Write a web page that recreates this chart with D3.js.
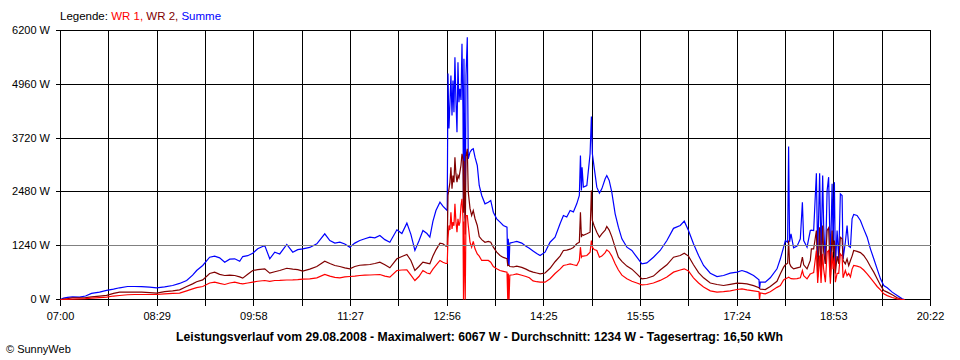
<!DOCTYPE html>
<html><head><meta charset="utf-8">
<script src="https://cdn.jsdelivr.net/npm/d3@7"></script>
<style>
html,body{margin:0;padding:0;background:#fff;}
svg{display:block;font-family:"Liberation Sans",Arial,sans-serif;}
</style></head><body>
<svg id="chart" width="960" height="360"></svg>
<script>
// minutes after 07:00
const times = [0,2.8,6.5,11.1,17.5,23.1,28.6,36.0,42.5,48.9,54.5,61.8,68.3,74.8,82.1,88.6,96.0,103.4,109.8,116.3,121.8,125.5,131.1,137.5,142.1,146.7,151.4,156.0,160.6,165.2,168.0,172.6,177.2,181.8,188.3,192.9,197.5,202.1,208.6,214.1,218.7,223.3,229.8,236.3,243.6,248.3,252.9,257.5,262.1,266.7,271.3,275.9,280.6,285.2,289.8,294.4,299.0,303.6,310.1,314.7,319.3,323.0,326.7,330.4,334.1,337.8,340.5,343.3,346.1,349.8,352.5,355.3,356.5,357.2,358.1,359.0,359.9,360.9,361.8,362.7,363.6,364.5,365.5,366.4,367.3,368.2,369.2,370.1,371.0,371.5,371.9,373.1,373.8,375.0,375.9,377.5,379.0,380.5,382.1,384.2,386.0,388.3,391.3,394.4,396.6,399.0,402.1,405.2,408.2,411.6,412.3,412.8,413.5,414.2,417.4,420.6,425.2,429.1,432.2,435.6,439.0,442.1,446.7,451.3,455.9,460.5,463.6,466.7,469.8,472.8,475.9,478.3,479.3,480.2,480.8,482.0,485.2,488.2,489.4,490.3,491.9,494.4,496.8,499.0,502.1,503.6,505.8,508.2,511.3,514.3,517.5,522.1,526.7,531.3,535.9,540.5,546.6,552.8,559.0,565.1,571.3,575.0,578.9,583.5,588.2,592.8,599.0,605.2,611.2,617.4,623.6,628.2,632.8,638.9,643.9,644.4,645.1,649.7,654.3,660.5,663.6,666.6,668.2,670.3,671.2,672.1,673.4,675.8,679.0,682.0,683.9,685.1,688.2,691.2,692.2,694.3,696.8,698.0,699.8,701.1,702.6,703.5,705.1,706.7,708.1,709.7,711.3,712.2,713.4,714.3,715.9,717.4,718.9,720.5,721.4,723.5,725.1,726.6,728.2,729.7,731.2,734.3,737.4,740.4,743.6,746.6,749.7,752.8,755.9,758.9,762.1,766.7,771.3,775.9,778.0];
// WR 1 (red)
const wr1 = [0,0,5,10,15,20,30,45,55,80,92,110,115,115,115,115,130,140,146,200,246,275,300,380,400,370,346,380,400,370,361,380,400,420,438,420,438,440,450,453,460,470,476,500,576,540,510,499,520,530,540,553,560,565,570,576,540,515,668,680,684,560,438,530,668,610,592,700,784,900,860,830,830,1399,1706,1600,2012,1628,1782,1700,2205,1800,1552,1860,1700,1782,2166,2320,1900,0,1800,0,1936,1936,1706,1320,1206,1340,1168,1050,1000,900,900,900,860,760,707,668,650,630,0,600,0,560,570,590,560,530,500,430,410,400,400,480,600,700,784,800,822,800,784,900,1206,975,1000,1000,1014,1090,1360,1206,1150,1130,975,1000,1080,1145,1100,1000,822,680,560,476,420,380,338,346,380,440,520,630,680,707,660,500,380,290,200,170,180,200,230,246,220,200,180,0,150,130,180,280,323,450,476,500,515,500,480,476,480,500,668,550,476,592,600,620,1130,380,1014,380,1053,700,400,1090,1130,361,1100,700,975,400,600,600,1053,1000,500,668,550,600,520,700,784,770,745,680,592,500,400,300,220,130,90,45,15,0,0];
// WR 2 (dark red)
const wr2 = [0,10,20,40,40,45,60,80,95,140,170,170,170,168,160,146,180,200,223,300,361,410,453,600,630,580,553,560,553,520,492,580,668,690,707,607,640,668,720,700,690,653,700,760,883,830,784,760,730,707,760,790,800,807,830,860,800,730,938,990,1037,900,668,760,860,840,822,1000,1145,1300,1284,1230,1230,2397,2551,2700,3050,2551,2858,2700,3280,2900,2705,2858,2800,2935,3100,3358,3243,2000,3200,1500,3300,3473,2474,2100,1936,2051,1867,1706,1450,1380,1320,1340,1320,1206,1090,1014,970,938,784,790,784,760,750,770,740,700,660,630,610,592,610,720,870,1000,1130,1140,1160,1200,1284,1320,2012,1436,1500,1480,1514,1552,2512,1821,1700,1550,1436,1514,1600,1683,1600,1450,1200,975,880,770,700,592,476,490,540,680,800,975,1014,1067,1000,800,620,500,380,346,323,350,377,370,361,320,270,250,240,230,300,420,592,745,800,835,1360,830,760,707,730,750,975,800,707,900,1168,1168,1590,515,1667,560,1706,1100,820,1590,1650,515,1590,1100,1360,600,1000,822,1436,1400,900,822,938,780,900,1000,1130,1110,1080,1014,900,760,630,480,330,207,170,110,40,0,0];
// Summe (blue)
const summe = [0,30,50,60,55,80,140,170,210,240,270,300,300,295,285,270,290,323,370,438,560,668,784,975,1000,960,860,930,938,880,990,1010,1067,1168,1245,938,1090,1050,1268,1090,1150,1168,1200,1284,1514,1360,1300,1320,1280,1205,1300,1360,1400,1436,1420,1475,1380,1320,1606,1520,1760,1500,1130,1350,1590,1520,1436,1800,2051,2243,2150,2080,2050,5209,3940,4500,5163,4241,5048,4317,5585,4600,3857,5470,4548,4856,4600,5893,4402,2100,5547,1867,5163,6045,3243,3395,3450,3473,3280,3089,2628,2397,2205,2243,2282,2012,1860,1782,1706,1667,784,1400,784,1300,1320,1340,1300,1230,1180,1120,1060,1014,1090,1320,1436,1745,1936,1900,2051,2020,2205,2397,3319,2512,3050,2590,2628,3358,4218,3358,3050,2590,2451,2550,2782,2858,2743,2474,1975,1667,1399,1206,1130,975,822,845,975,1130,1360,1640,1706,1805,1590,1284,1014,784,607,530,553,607,630,668,630,553,453,246,400,400,500,707,938,1206,1360,1320,3527,1330,1514,1190,1230,1399,2243,1360,1206,1590,1600,1590,2912,975,2912,1000,2858,1706,822,2512,2820,822,2666,1360,2705,745,1590,938,2436,2397,938,1320,1706,1230,1200,1860,1959,1936,1821,1628,1436,1168,938,707,476,323,270,170,92,15,0];

const xTickLabels = ["07:00","08:29","09:58","11:27","12:56","14:25","15:55","17:24","18:53","20:22"];
const yTicks = [0,1240,2480,3720,4960,6200];
const average = 1234;
const titleText = "Leistungsverlauf vom 29.08.2008 - Maximalwert: 6067 W - Durchschnitt: 1234 W - Tagesertrag: 16,50 kWh";
const legendParts = [["Legende: ","#000000"],["WR 1, ","#ff0000"],["WR 2, ","#800000"],["Summe","#0000ff"]];

const svg = d3.select('#chart');
const x = d3.scaleLinear().domain([0, 802]).range([60, 930]);
const y = d3.scaleLinear().domain([0, 6200]).range([299, 30]);

// vertical grid + x ticks
const gridVals = d3.range(19).map(k => k * 802 / 18);
const xAxis = d3.axisBottom(x).tickValues(gridVals).tickSizeInner(6).tickSizeOuter(0)
  .tickFormat((d, i) => i % 2 === 0 ? xTickLabels[i / 2] : "");
const gx = svg.append('g').attr('transform', 'translate(0,299.5)').call(xAxis);
gx.select('.domain').remove();
gx.selectAll('.tick line').attr('y1', -269).attr('y2', 6).attr('stroke', '#000').attr('shape-rendering', 'crispEdges');
gx.selectAll('.tick text').attr('y', 17).attr('dy', '0.32em').attr('fill', '#000')
  .attr('font-size', 11).attr('font-family', '"Liberation Sans",Arial,sans-serif');

// horizontal grid + y ticks
const yAxis = d3.axisLeft(y).tickValues(yTicks).tickSizeInner(5).tickSizeOuter(0).tickFormat(d => d + " W");
const gy = svg.append('g').attr('transform', 'translate(60.5,0)').call(yAxis);
gy.select('.domain').remove();
gy.selectAll('.tick line').attr('x1', 870).attr('x2', -5).attr('stroke', '#000').attr('shape-rendering', 'crispEdges');
gy.selectAll('.tick text').attr('x', -10.5).attr('fill', '#000')
  .attr('font-size', 11).attr('font-family', '"Liberation Sans",Arial,sans-serif');

// series
const idx = d3.range(times.length);
const series = [[summe, '#0000ff'], [wr2, '#800000'], [wr1, '#ff0000']];
series.forEach(([vals, col]) => {
  const line = d3.line().x(i => x(times[i]) + 0.5).y(i => y(vals[i]) + 0.5);
  svg.append('path').datum(idx).attr('d', line).attr('fill', 'none')
    .attr('stroke', col).attr('stroke-width', 1.2).attr('stroke-linejoin', 'miter');
});

// average line
const ay = Math.round(y(average)) + 0.5;
svg.append('line').attr('x1', x(0) + 0.5).attr('x2', x(802) + 0.5).attr('y1', ay).attr('y2', ay)
  .attr('stroke', '#808080').attr('stroke-width', 1).attr('shape-rendering', 'crispEdges');

// legend
const lg = svg.append('text').attr('x', 60).attr('y', 16).attr('dy', '0.35em').attr('font-size', 11.5);
legendParts.forEach(([t, c]) => lg.append('tspan').attr('fill', c).text(t));
lg.attr('xml:space', 'preserve').style('white-space', 'pre');

// title
svg.append('text').attr('x', 176).attr('y', 337).attr('dy', '0.35em')
  .attr('font-size', 12).attr('font-weight', 'bold').attr('fill', '#000')
  .attr('textLength', 607).attr('lengthAdjust', 'spacingAndGlyphs').text(titleText);

// copyright
svg.append('text').attr('x', 6).attr('y', 349).attr('dy', '0.35em').attr('font-size', 11)
  .attr('fill', '#000').text('\u00A9 SunnyWeb');
</script>
</body></html>
